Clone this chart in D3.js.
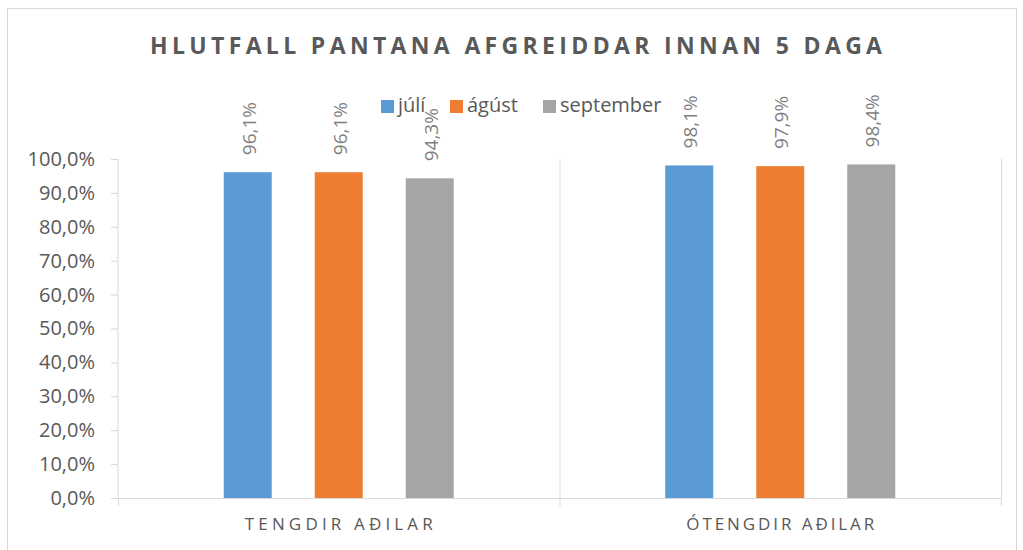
<!DOCTYPE html>
<html><head><meta charset="utf-8">
<script src="https://cdn.jsdelivr.net/npm/d3@7"></script>
<style>body{margin:0;background:#fff}svg{display:block}text{font-family:"Open Sans","Noto Sans",sans-serif}</style>
</head><body><svg id="c" width="1023" height="550"></svg>
<script>
const title = "HLUTFALL PANTANA AFGREIDDAR INNAN 5 DAGA";
const categories = ["TENGDIR AÐILAR", "ÓTENGDIR AÐILAR"];
const seriesNames = ["júlí", "ágúst", "september"];
const seriesColors = ["#5b9bd5", "#ed7d31", "#a5a5a5"];
const julValues = [96.1, 98.1];
const agustValues = [96.1, 97.9];
const septValues = [94.3, 98.4];
const yTicks = [0,10,20,30,40,50,60,70,80,90,100];

const series = [julValues, agustValues, septValues];
const svg = d3.select("#c");
const L = 118, R = 1001, T = 159, B = 498;

svg.append("rect").attr("x",7.5).attr("y",8.5).attr("width",1009).attr("height",560)
  .attr("fill","#fff").attr("stroke","#d9d9d9");

const x = d3.scaleBand().domain(categories).range([L,R]);
const xs = d3.scaleBand().domain(seriesNames).range([0,x.bandwidth()]).paddingInner(43/91).paddingOuter(1.162);
const y = d3.scaleLinear().domain([0,100]).range([B,T]);
const fmt = v => d3.format(".1f")(v).replace(".", ",") + "%";

// y axis
const ya = svg.append("g").attr("transform",`translate(${L},0)`)
  .call(d3.axisLeft(y).tickValues(yTicks).tickSize(7).tickPadding(16).tickFormat(fmt));
ya.select(".domain").attr("stroke","#d9d9d9").attr("d",`M0,${T}V${B}`);
ya.selectAll(".tick line").attr("stroke","#d9d9d9");
ya.selectAll(".tick text").attr("fill","#595959").style("font-size","20px").style("font-family","Open Sans");

// x axis baseline and dividers
svg.append("line").attr("x1",L).attr("x2",R).attr("y1",B+0.5).attr("y2",B+0.5).attr("stroke","#d9d9d9");
const bounds = [L, L + x.step(), R];
svg.selectAll(".div").data(bounds).enter().append("line")
  .attr("x1",d=>d+0.5).attr("x2",d=>d+0.5).attr("y1",d=>d===L?B:T).attr("y2",B+8).attr("stroke","#d9d9d9");

// bars
categories.forEach((c,ci)=>{
  seriesNames.forEach((s,si)=>{
    const v = series[si][ci];
    const bx = x(c)+xs(s);
    svg.append("rect").attr("x",bx).attr("y",y(v)).attr("width",xs.bandwidth()).attr("height",B-y(v)).attr("fill",seriesColors[si]);
    const cx = bx + xs.bandwidth()/2;
    svg.append("text").attr("transform",`translate(${cx+8},${y(v)-17}) rotate(-90)`)
      .attr("fill","#7f7f7f").style("font-size","19px").text(fmt(v));
  });
});

// category labels
svg.selectAll(".cl").data(categories).enter().append("text")
  .attr("x",d=>x(d)+x.bandwidth()/2 - 94).attr("y",530)
  .attr("textLength",188).attr("lengthAdjust","spacing")
  .attr("fill","#595959").style("font-size","17px").text(d=>d);

// title
svg.append("text").attr("x",150).attr("y",54)
  .attr("textLength",732).attr("lengthAdjust","spacing")
  .attr("fill","#595959").style("font-size","23px").style("font-weight","bold").text(title);

// legend
const legX = [381, 450, 543];
seriesNames.forEach((s,i)=>{
  svg.append("rect").attr("x",legX[i]).attr("y",100).attr("width",13).attr("height",13).attr("fill",seriesColors[i]);
  svg.append("text").attr("x",legX[i]+17).attr("y",112).attr("fill","#595959").style("font-size","20px").text(s);
});
</script></body></html>
